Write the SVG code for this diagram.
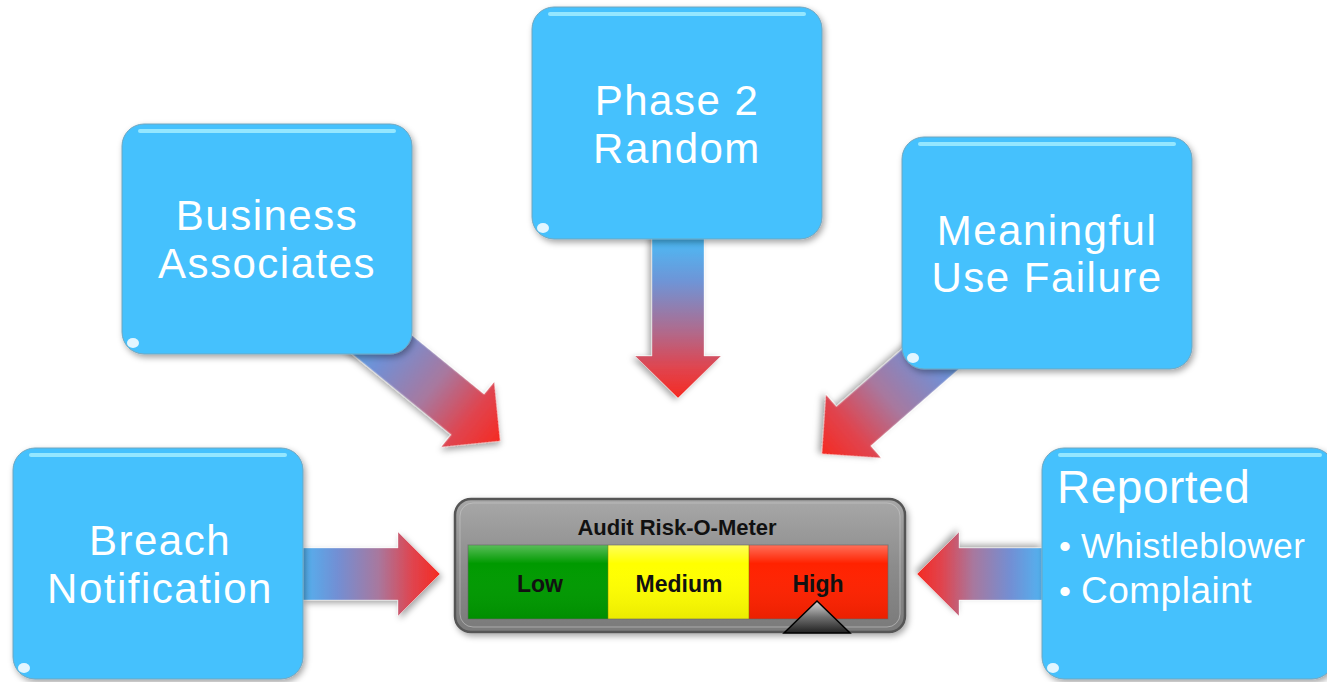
<svg xmlns="http://www.w3.org/2000/svg" width="1327" height="682" viewBox="0 0 1327 682">
<defs>
<linearGradient id="arrowGrad" x1="0" y1="0" x2="1" y2="0">
<stop offset="0" stop-color="#52b2f0"/>
<stop offset="0.25" stop-color="#728fd4"/>
<stop offset="0.55" stop-color="#a8789e"/>
<stop offset="0.8" stop-color="#e0444e"/>
<stop offset="1" stop-color="#f52a22"/>
</linearGradient>
<linearGradient id="arrowGradLong" x1="0" y1="0" x2="1" y2="0">
<stop offset="0" stop-color="#45c1fb"/>
<stop offset="0.3" stop-color="#6f94d6"/>
<stop offset="0.6" stop-color="#b06a8c"/>
<stop offset="0.82" stop-color="#e0444e"/>
<stop offset="1" stop-color="#f52a22"/>
</linearGradient>
<linearGradient id="triGrad" x1="0" y1="0" x2="0" y2="1">
<stop offset="0" stop-color="#d8d8d8"/>
<stop offset="0.5" stop-color="#707070"/>
<stop offset="1" stop-color="#202020"/>
</linearGradient>
<linearGradient id="gloss" x1="0" y1="0" x2="0" y2="1">
<stop offset="0" stop-color="#ffffff" stop-opacity="0.35"/>
<stop offset="0.25" stop-color="#ffffff" stop-opacity="0"/>
<stop offset="1" stop-color="#000000" stop-opacity="0.08"/>
</linearGradient>
<linearGradient id="meterGrad" x1="0" y1="0" x2="0" y2="1">
<stop offset="0" stop-color="#a8a8a8"/>
<stop offset="0.5" stop-color="#8c8c8c"/>
<stop offset="1" stop-color="#7a7a7a"/>
</linearGradient>
<filter id="shadow" x="-10%" y="-10%" width="125%" height="125%">
<feDropShadow dx="2" dy="3" stdDeviation="3" flood-color="#000" flood-opacity="0.35"/>
</filter>
</defs>
<style>
.box{fill:#45c1fd;stroke:#6fa6c0;stroke-width:1;filter:url(#shadow)}
.hl{fill:none;stroke:#a8f0ff;stroke-width:4;stroke-linecap:round;opacity:0.8}
.spot{fill:#ffffff;opacity:0.85}
.t{font-family:"Liberation Sans",Arial,sans-serif;fill:#ffffff;font-size:42px;letter-spacing:1.5px;text-anchor:middle}
.tl{font-family:"Liberation Sans",Arial,sans-serif;fill:#ffffff;text-anchor:start;letter-spacing:0.5px}
.arr{fill:url(#arrowGrad);stroke:#ffffff;stroke-opacity:0.35;stroke-width:1;filter:url(#shadow)}
.arrl{fill:url(#arrowGradLong)}
.mt{font-family:"Liberation Sans",Arial,sans-serif;font-weight:bold;fill:#111;text-anchor:middle}
</style>
<rect width="1327" height="682" fill="#ffffff"/>

<g id="connectors">
<path class="arr" transform="translate(303,574)" d="M0,-26 H95 V-42 L137,0 L95,42 V26 H0 Z"/>
<path class="arr" transform="translate(1042,574) rotate(180)" d="M0,-26 H83 V-42 L125,0 L83,42 V26 H0 Z"/>
<path class="arr arrl" transform="translate(678,232) rotate(90)" d="M0,-26 H124 V-43 L166,0 L124,43 V26 H0 Z"/>
<path class="arr" transform="translate(353,321) rotate(39.2)" d="M0,-26 H148 V-42 L190,0 L148,42 V26 H0 Z"/>
<path class="arr" transform="translate(965,329) rotate(138.9)" d="M0,-26 H148 V-42 L190,0 L148,42 V26 H0 Z"/>
</g>

<g id="business-associates">
<rect class="box" x="122" y="124" width="290" height="230" rx="22"/>
<path class="hl" d="M140,131 H394"/>
<ellipse class="spot" cx="133" cy="343" rx="6" ry="5"/>
<text class="t" x="267" y="230">Business</text>
<text class="t" x="267" y="278">Associates</text>
</g>

<g id="phase2-random">
<rect class="box" x="532" y="7" width="290" height="232" rx="22"/>
<path class="hl" d="M550,14 H804"/>
<ellipse class="spot" cx="543" cy="228" rx="6" ry="5"/>
<text class="t" x="677" y="115">Phase 2</text>
<text class="t" x="677" y="163">Random</text>
</g>

<g id="meaningful-use-failure">
<rect class="box" x="902" y="137" width="290" height="232" rx="22"/>
<path class="hl" d="M920,144 H1174"/>
<ellipse class="spot" cx="913" cy="358" rx="6" ry="5"/>
<text class="t" x="1047" y="245">Meaningful</text>
<text class="t" x="1047" y="292">Use Failure</text>
</g>

<g id="breach-notification">
<rect class="box" x="13" y="448" width="290" height="231" rx="22"/>
<path class="hl" d="M31,455 H285"/>
<ellipse class="spot" cx="24" cy="668" rx="6" ry="5"/>
<text class="t" x="160" y="555">Breach</text>
<text class="t" x="160" y="603">Notification</text>
</g>

<g id="reported">
<rect class="box" x="1042" y="448" width="292" height="231" rx="22"/>
<path class="hl" d="M1060,455 H1320"/>
<ellipse class="spot" cx="1053" cy="668" rx="6" ry="5"/>
<text class="tl" x="1057" y="503" font-size="46">Reported</text>
<text class="tl" x="1059" y="558" font-size="34">•</text>
<text class="tl" x="1081" y="558" font-size="35">Whistleblower</text>
<text class="tl" x="1059" y="603" font-size="34">•</text>
<text class="tl" x="1081" y="603" font-size="37">Complaint</text>
</g>

<g id="risk-o-meter">
<rect x="455" y="499" width="450" height="133" rx="16" fill="url(#meterGrad)" stroke="#555555" stroke-width="2.5" filter="url(#shadow)"/>
<rect x="460" y="503" width="440" height="124" rx="13" fill="none" stroke="#c8c8c8" stroke-width="1" opacity="0.6"/>
<text class="mt" x="677" y="535" font-size="22">Audit Risk-O-Meter</text>
<rect x="468" y="545" width="140" height="74" fill="#009a00"/>
<rect x="608" y="545" width="141" height="74" fill="#ffff00"/>
<rect x="749" y="545" width="139" height="74" fill="#ff2200"/>
<rect x="468" y="545" width="420" height="74" fill="url(#gloss)"/>
<line x1="608" y1="545" x2="608" y2="619" stroke="#808000" stroke-width="1" opacity="0.5"/>
<line x1="749" y1="545" x2="749" y2="619" stroke="#806000" stroke-width="1" opacity="0.5"/>
<rect x="468" y="545" width="420" height="74" fill="none" stroke="#666" stroke-width="1" opacity="0.6"/>
<text class="mt" x="540" y="592" font-size="23">Low</text>
<text class="mt" x="679" y="592" font-size="23">Medium</text>
<text class="mt" x="818" y="592" font-size="23">High</text>
<path d="M817,601 L850,633 L784,633 Z" fill="url(#triGrad)" stroke="#000" stroke-width="1.5" stroke-linejoin="miter"/>
</g>
</svg>
